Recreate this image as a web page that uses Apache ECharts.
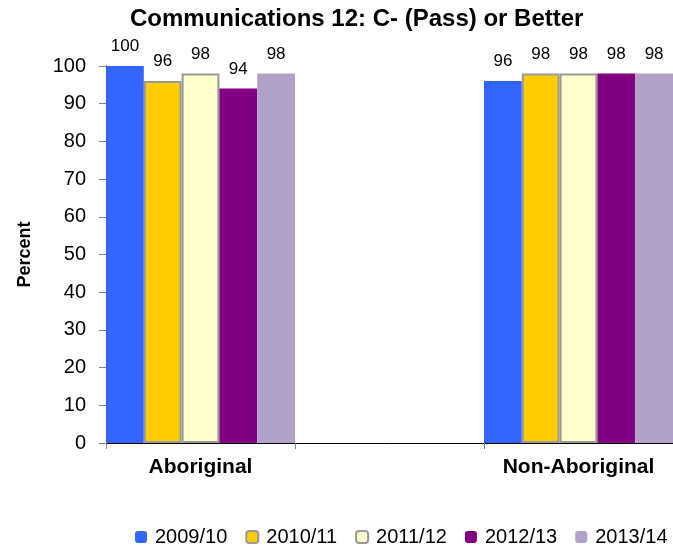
<!DOCTYPE html>
<html>
<head>
<meta charset="utf-8">
<script src="https://cdn.jsdelivr.net/npm/echarts@6/dist/echarts.min.js"></script>
<style>
  html, body { margin: 0; padding: 0; background: #fff; }
  #chart { width: 673px; height: 548px; }
</style>
</head>
<body>
<div id="chart"></div>
<script>
// Group labels; the empty middle category keeps the wide gap between groups
const categories = ['Aboriginal', '', 'Non-Aboriginal'];
const years = ['2009/10', '2010/11', '2011/12', '2012/13', '2013/14'];

// Percent of students with C- (Pass) or better, per school year
const y2009 = [100, '-', 96];
const y2010 = [96, '-', 98];
const y2011 = [98, '-', 98];
const y2012 = [94, '-', 98];
const y2013 = [98, '-', 98];

const seriesValues = [y2009, y2010, y2011, y2012, y2013];
const fills = ['#3366FF', '#FFCC00', '#FFFFCC', '#800080', '#B1A0C7'];
const borders = [null, '#999999', '#999999', null, null];

const FONT = '"Liberation Sans", Arial, sans-serif';

const chart = echarts.init(document.getElementById('chart'));

chart.setOption({
  animation: false,
  textStyle: { fontFamily: FONT },
  title: {
    text: 'Communications 12: C- (Pass) or Better',
    left: 130,
    top: 7,
    padding: 0,
    textStyle: { fontFamily: FONT, fontSize: 24, fontWeight: 'bold', color: '#000' }
  },
  legend: {
    data: years,
    left: 135,
    top: 527,
    width: 538,
    padding: 0,
    itemWidth: 12,
    itemHeight: 12,
    itemGap: 18,
    textStyle: { fontFamily: FONT, fontSize: 20, color: '#000', padding: [0, 0, 0, 3] }
  },
  grid: { left: 106, top: 66, width: 572, bottom: 105, containLabel: false },
  xAxis: {
    type: 'category',
    data: categories,
    axisLine: { lineStyle: { color: '#000', width: 1 } },
    axisTick: { show: true, interval: 0, length: 6, lineStyle: { color: '#808080' } },
    axisLabel: { interval: 0, margin: 14, fontFamily: FONT, fontSize: 21, fontWeight: 'bold', color: '#000' },
    splitLine: { show: false }
  },
  yAxis: {
    type: 'value',
    min: 0,
    max: 100,
    interval: 10,
    name: 'Percent',
    nameLocation: 'middle',
    nameGap: 72,
    nameTextStyle: { fontFamily: FONT, fontSize: 18, fontWeight: 'bold', color: '#000' },
    axisLine: { show: true, lineStyle: { color: '#000', width: 1 } },
    axisTick: { show: true, length: 7, lineStyle: { color: '#808080' } },
    axisLabel: { margin: 20, fontFamily: FONT, fontSize: 20, color: '#000' },
    splitLine: { show: false }
  },
  series: seriesValues.map((vals, i) => ({
    name: years[i],
    type: 'bar',
    data: vals,
    barGap: '0%',
    barCategoryGap: '0%',
    itemStyle: {
      color: fills[i],
      borderColor: borders[i] || fills[i],
      borderWidth: borders[i] ? 2 : 0
    },
    label: {
      show: true,
      position: 'top',
      distance: 11,
      fontFamily: FONT,
      fontSize: 17,
      color: '#000'
    }
  }))
});
</script>
</body>
</html>
